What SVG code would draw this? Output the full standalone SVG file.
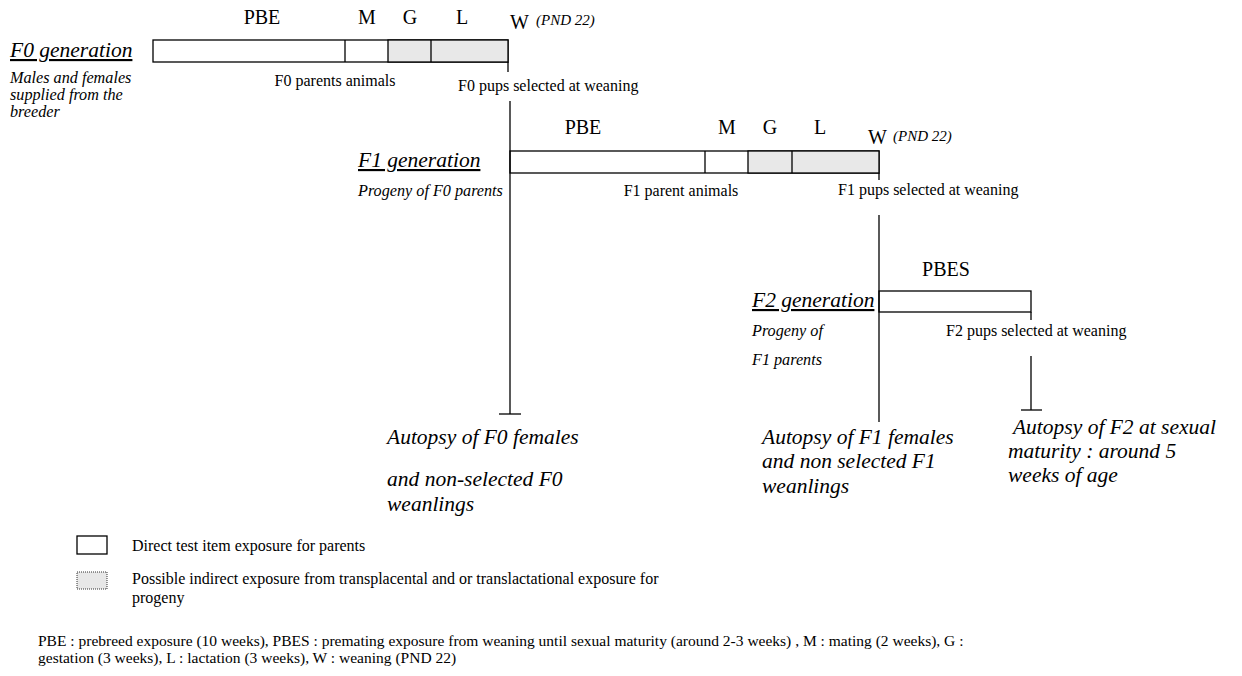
<svg xmlns="http://www.w3.org/2000/svg" width="1242" height="676" viewBox="0 0 1242 676" font-family="'Liberation Serif','Times New Roman','DejaVu Serif',serif">
<style>
text{font-family:"Liberation Serif","Times New Roman","DejaVu Serif",serif;fill:#000}
.lbl{font-size:20px}
.sm{font-size:16px}
.gen{font-size:21.5px;font-style:italic;text-decoration:underline}
.note{font-size:16.2px;font-style:italic}
.pnd{font-size:15px;font-style:italic}
.aut{font-size:21.5px;font-style:italic}
.foot{font-size:15.5px}
.bar{fill:#fff;stroke:#000;stroke-width:1.3}
.grey{fill:#e8e8e8;stroke:#000;stroke-width:1.3}
.ln{stroke:#000;stroke-width:1.3;fill:none}
</style>
<rect width="1242" height="676" fill="#fff"/>
<g id="f0">
<rect class="bar" x="153" y="40" width="355" height="22"/>
<rect class="grey" x="388" y="40" width="120" height="22"/>
<line class="ln" x1="345" y1="40" x2="345" y2="62"/>
<line class="ln" x1="431" y1="40" x2="431" y2="62"/>
<text class="lbl" x="262" y="24" text-anchor="middle">PBE</text>
<text class="lbl" x="367" y="24" text-anchor="middle">M</text>
<text class="lbl" x="410" y="24" text-anchor="middle">G</text>
<text class="lbl" x="462" y="24" text-anchor="middle">L</text>
<text class="lbl" x="510" y="29">W</text>
<text class="pnd" x="536" y="25">(PND 22)</text>
<text class="gen" x="10" y="57">F0 generation</text>
<text class="note" x="10" y="83">Males and females</text>
<text class="note" x="10" y="100">supplied from the</text>
<text class="note" x="10" y="117">breeder</text>
<text class="sm" x="335" y="86" text-anchor="middle">F0 parents animals</text>
<text class="sm" x="458" y="91">F0 pups selected at weaning</text>
</g>
<g id="f1">
<rect class="bar" x="510" y="151" width="369" height="22"/>
<rect class="grey" x="748" y="151" width="131" height="22"/>
<line class="ln" x1="705" y1="151" x2="705" y2="173"/>
<line class="ln" x1="792" y1="151" x2="792" y2="173"/>
<text class="lbl" x="583" y="134" text-anchor="middle">PBE</text>
<text class="lbl" x="727" y="134" text-anchor="middle">M</text>
<text class="lbl" x="770" y="134" text-anchor="middle">G</text>
<text class="lbl" x="820" y="134" text-anchor="middle">L</text>
<text class="lbl" x="868" y="144">W</text>
<text class="pnd" x="893" y="141">(PND 22)</text>
<text class="gen" x="358" y="167">F1 generation</text>
<text class="note" x="358" y="196">Progeny of F0 parents</text>
<text class="sm" x="681" y="196" text-anchor="middle">F1 parent animals</text>
<text class="sm" x="838" y="195">F1 pups selected at weaning</text>
</g>
<g id="f2">
<rect class="bar" x="879" y="291" width="152" height="21"/>
<text class="lbl" x="946" y="276" text-anchor="middle">PBES</text>
<text class="gen" x="752" y="307">F2 generation</text>
<text class="note" x="752" y="336">Progeny of</text>
<text class="note" x="752" y="365">F1 parents</text>
<text class="sm" x="946" y="336">F2 pups selected at weaning</text>
</g>
<g id="autopsy-f0">
<text class="aut" x="387" y="444">Autopsy of F0 females</text>
<text class="aut" x="387" y="486">and non-selected F0</text>
<text class="aut" x="387" y="511">weanlings</text>
</g>
<g id="autopsy-f1">
<text class="aut" x="762" y="444">Autopsy of F1 females</text>
<text class="aut" x="762" y="468">and non selected F1</text>
<text class="aut" x="762" y="493">weanlings</text>
</g>
<g id="autopsy-f2">
<text class="aut" x="1008" y="434" xml:space="preserve"> Autopsy of F2 at sexual</text>
<text class="aut" x="1008" y="458">maturity : around 5</text>
<text class="aut" x="1008" y="482">weeks of age</text>
</g>
<g id="connectors">
<line class="ln" x1="508" y1="62" x2="508" y2="72"/>
<line class="ln" x1="510" y1="101" x2="510" y2="414"/>
<line class="ln" x1="499" y1="414" x2="521" y2="414"/>
<line class="ln" x1="879" y1="173" x2="879" y2="180"/>
<line class="ln" x1="879" y1="215" x2="879" y2="422"/>
<line class="ln" x1="1031" y1="312" x2="1031" y2="320"/>
<line class="ln" x1="1031" y1="356" x2="1031" y2="410"/>
<line class="ln" x1="1021" y1="410" x2="1042" y2="410"/>
</g>
<g id="legend">
<rect x="77" y="536" width="30" height="18" fill="#fff" stroke="#000" stroke-width="1.3"/>
<rect x="77" y="572" width="30" height="17" fill="#e8e8e8" stroke="#000" stroke-width="0.8" stroke-dasharray="1,1"/>
<text class="sm" x="132" y="551">Direct test item exposure for parents</text>
<text class="sm" x="132" y="584">Possible indirect exposure from transplacental and or translactational exposure for</text>
<text class="sm" x="132" y="603">progeny</text>
<text class="foot" x="38" y="646">PBE : prebreed exposure (10 weeks), PBES : premating exposure from weaning until sexual maturity (around 2-3 weeks) , M : mating (2 weeks), G :</text>
<text class="foot" x="38" y="663">gestation (3 weeks), L : lactation (3 weeks), W : weaning (PND 22)</text>
</g>
</svg>
